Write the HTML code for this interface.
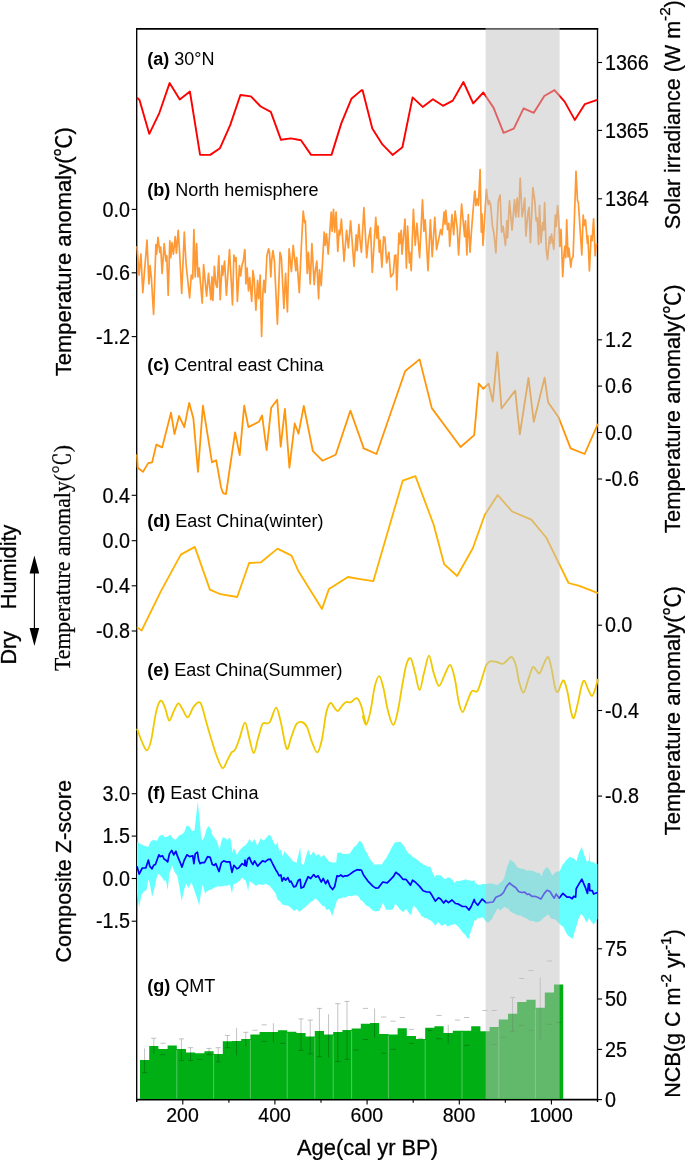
<!DOCTYPE html>
<html lang="en"><head><meta charset="utf-8"><title>Paleoclimate records</title>
<style>
html,body{margin:0;padding:0;background:#fff;}
body{width:685px;height:1160px;overflow:hidden;}
svg{display:block;}
text{font-family:"Liberation Sans","Noto Sans CJK SC",sans-serif;fill:#000;}
.tk{font-size:21.6px;stroke:#000;stroke-width:0.2px;}
.ti{font-size:22px;stroke:#000;stroke-width:0.3px;}
.pl{font-size:17.6px;}
.dh{font-size:21.5px;}
.se{stroke-width:0.25px;font-size:22.5px;}
.se{font-family:"Liberation Serif","Noto Serif CJK SC",serif;}
</style></head><body>
<svg width="685" height="1160" viewBox="0 0 685 1160">
<rect width="685" height="1160" fill="#fff"/>
<g stroke="#000" fill="none" stroke-linecap="butt">
<path stroke-width="1.35" d="M136.7 1102.0V28.0M597.5 28.0V1102.0"/>
<path stroke-width="1.7" d="M136.0 28.8H598.2M136.0 1099.6H598.2"/>
</g>
<g stroke="#000" stroke-width="1.1" fill="none">
<path d="M182.8 1099.6v5"/>
<path d="M274.9 1099.6v5"/>
<path d="M367.1 1099.6v5"/>
<path d="M459.3 1099.6v5"/>
<path d="M551.4 1099.6v5"/>
<path d="M228.9 1099.6v3.2"/>
<path d="M321.0 1099.6v3.2"/>
<path d="M413.2 1099.6v3.2"/>
<path d="M505.3 1099.6v3.2"/>
<path d="M136.7 209.4h-5"/>
<path d="M136.7 272.8h-5"/>
<path d="M136.7 336.6h-5"/>
<path d="M136.7 495.3h-5"/>
<path d="M136.7 540.7h-5"/>
<path d="M136.7 585.8h-5"/>
<path d="M136.7 631.0h-5"/>
<path d="M136.7 793.7h-5"/>
<path d="M136.7 836.1h-5"/>
<path d="M136.7 878.5h-5"/>
<path d="M136.7 921.2h-5"/>
<path d="M597.5 62.5h4.6"/>
<path d="M597.5 130.4h4.6"/>
<path d="M597.5 198.8h4.6"/>
<path d="M597.5 339.8h4.6"/>
<path d="M597.5 386.1h4.6"/>
<path d="M597.5 432.5h4.6"/>
<path d="M597.5 479.0h4.6"/>
<path d="M597.5 625.2h4.6"/>
<path d="M597.5 710.5h4.6"/>
<path d="M597.5 796.1h4.6"/>
<path d="M597.5 948.8h4.6"/>
<path d="M597.5 999.0h4.6"/>
<path d="M597.5 1049.4h4.6"/>
<path d="M597.5 1099.6h4.6"/>
</g>
<polyline fill="none" stroke="#FF0000" stroke-width="1.9" stroke-linejoin="round" points="137.0,97.8 139.5,99.9 149.3,133.9 159.4,112.8 169.6,83.1 179.8,99.5 189.9,91.5 200.1,154.9 210.2,154.9 220.0,148.2 230.2,125.1 240.4,95.0 250.9,96.4 260.7,106.5 270.8,111.8 281.0,139.8 290.8,138.4 301.0,140.2 311.1,154.9 331.5,154.9 341.3,123.4 351.4,98.8 361.6,90.1 362.5,90.1 372.3,128.6 382.4,144.4 392.6,154.9 402.4,147.2 412.6,97.4 422.7,106.9 432.9,99.2 443.0,105.8 452.8,100.6 463.4,82.0 473.2,103.4 483.3,92.5 493.5,107.6 503.6,132.8 513.8,128.6 523.6,108.3 533.8,112.8 544.3,96.0 554.5,90.1 564.6,101.6 574.8,119.9 584.9,104.1 597.2,99.9"/>
<polyline fill="none" stroke="#FF9933" stroke-width="1.7" stroke-linejoin="round" points="137.0,246.2 139.1,275.1 140.9,254.1 142.8,292.6 147.0,240.1 148.9,283.9 150.1,265.5 151.4,278.6 153.6,314.5 155.9,244.5 156.6,254.1 158.0,237.4 159.8,252.3 160.7,247.1 162.1,273.4 164.2,243.6 165.9,261.1 166.8,255.8 168.2,295.3 169.8,240.9 170.8,257.6 172.0,242.7 173.4,254.1 175.2,236.6 176.4,253.2 178.2,230.4 179.6,252.3 181.7,293.5 184.3,232.2 186.1,264.6 189.6,297.9 191.3,275.1 192.7,278.6 193.9,229.6 195.2,276.9 196.6,243.6 198.0,276.9 199.2,268.1 202.2,303.1 203.6,264.6 206.6,296.1 208.5,273.4 210.9,299.6 212.0,276.9 212.9,300.5 214.4,266.4 215.8,283.9 217.1,287.4 218.8,255.8 220.2,299.6 222.0,265.5 222.8,275.1 224.6,261.1 226.4,295.3 229.5,249.7 232.5,304.9 233.9,255.0 235.1,261.1 236.0,257.6 237.4,301.4 239.5,265.5 240.7,276.0 242.1,264.6 243.3,261.1 244.7,249.7 245.0,250.6 245.9,283.9 247.1,268.1 248.5,290.9 249.7,277.7 251.7,301.4 252.9,270.7 254.1,278.6 255.9,310.1 257.6,280.4 258.7,298.8 260.2,275.1 261.6,336.4 262.9,292.6 263.9,280.4 265.1,292.6 266.9,255.8 268.6,248.8 269.5,252.3 270.8,276.9 271.6,261.1 273.0,250.6 274.4,261.1 277.4,324.2 280.0,252.3 281.4,257.6 283.9,308.4 285.6,273.4 287.4,311.9 289.1,248.8 291.4,271.6 293.2,245.3 295.8,270.7 296.7,257.6 299.3,292.6 301.4,245.3 303.2,211.2 304.6,222.6 305.4,220.8 307.2,273.4 308.4,252.3 310.2,283.9 311.9,243.6 314.2,284.7 315.1,272.5 316.8,261.1 318.6,298.8 319.5,269.9 321.2,285.6 324.2,232.2 325.2,245.3 326.5,233.9 328.2,254.1 331.2,212.0 332.1,231.3 333.5,209.4 334.7,232.2 336.1,212.0 337.8,251.5 339.1,230.4 339.9,234.8 341.4,219.1 344.0,261.1 346.6,230.4 348.4,248.0 350.6,220.8 354.0,266.4 356.2,234.8 357.1,250.6 358.9,224.3 360.0,240.1 361.4,252.3 363.9,207.7 366.7,257.6 368.4,240.1 370.5,227.8 372.3,272.5 375.8,217.3 377.0,238.3 378.0,226.1 379.3,252.3 380.1,240.1 381.9,267.2 383.6,236.6 384.9,237.4 386.6,262.8 388.9,252.3 390.7,276.9 393.3,273.4 394.7,255.8 395.9,255.0 396.8,290.0 398.9,233.1 399.9,243.6 401.2,230.4 402.0,254.1 405.0,219.1 406.4,268.1 407.6,226.1 409.4,262.8 409.9,252.3 411.2,270.7 413.4,209.4 415.2,245.3 416.9,223.4 419.6,257.6 422.5,199.8 423.9,231.3 425.2,219.9 428.0,270.7 430.4,219.9 432.2,256.7 434.8,217.3 436.6,249.7 440.6,229.6 442.0,234.8 444.1,212.0 445.0,224.3 445.8,210.3 447.6,229.6 448.8,223.4 449.7,246.2 452.0,214.7 453.7,234.8 455.1,211.2 457.2,227.8 458.6,255.0 461.6,204.2 464.6,236.6 465.5,220.8 466.9,255.0 468.3,214.7 470.0,252.3 472.1,222.6 474.7,191.0 475.0,191.3 475.9,205.5 477.3,198.9 478.4,205.5 480.1,169.5 481.3,232.1 482.0,214.1 483.0,245.4 486.4,189.4 488.3,204.6 489.2,200.8 490.6,204.6 492.5,226.4 494.0,234.0 495.9,253.0 498.2,201.8 500.1,195.1 501.6,232.1 503.1,226.4 505.4,245.4 506.9,220.7 507.6,237.8 509.5,200.8 512.0,230.2 514.5,199.9 515.8,216.9 517.1,198.0 518.6,216.9 520.2,178.0 522.1,216.9 523.4,209.3 524.7,198.0 525.9,235.9 528.1,211.2 529.1,207.4 530.4,242.6 532.9,187.5 534.8,200.8 536.1,220.7 537.2,217.9 538.6,244.5 539.5,205.5 541.0,242.6 542.6,222.6 543.7,230.2 544.6,202.7 546.2,249.2 547.5,259.6 549.6,236.9 550.5,243.5 551.5,234.0 553.8,249.2 555.3,215.0 556.2,226.4 557.6,205.5 558.5,216.9 559.8,246.4 561.0,229.3 562.7,276.7 563.8,256.8 564.8,246.4 565.7,257.7 566.7,219.8 568.0,256.8 568.9,248.2 570.8,267.2 571.8,258.7 573.1,256.8 576.0,171.4 577.5,200.8 578.4,202.7 580.3,232.1 581.8,254.9 583.2,215.0 584.1,225.5 585.5,219.8 587.4,243.5 587.9,235.9 589.4,271.0 591.1,235.9 592.1,240.7 593.6,218.8 595.1,255.8 596.5,243.5"/>
<polyline fill="none" stroke="#FF960A" stroke-width="1.8" stroke-linejoin="round" points="137.0,454.4 137.7,467.7 143.0,471.9 148.2,463.1 152.1,462.4 156.3,444.6 162.2,447.4 171.0,412.7 174.5,434.1 179.1,415.8 184.3,427.1 189.2,402.9 193.4,418.6 198.0,471.9 202.9,405.7 212.0,462.4 216.2,460.3 221.1,487.7 223.2,493.3 226.0,494.0 235.1,432.3 239.7,455.1 244.2,405.7 248.4,427.1 258.9,421.8 262.1,415.5 266.6,450.2 271.2,407.8 277.2,399.7 280.7,446.7 284.9,408.8 289.4,467.7 294.7,423.5 298.5,433.7 303.8,406.0 312.9,451.2 322.4,460.7 335.7,454.7 350.4,410.6 363.7,448.1 363.2,448.1 376.5,454.0 405.2,371.0 419.6,359.4 431.8,408.1 460.6,447.0 474.2,435.1 478.8,383.6 483.3,388.9 488.6,383.6 492.8,401.5 497.3,352.1 501.5,408.5 515.2,390.6 519.8,434.4 528.5,378.0 533.8,421.8 544.6,377.6 548.1,402.2 558.7,417.6 570.6,448.4 584.6,454.0 597.9,423.9"/>
<polyline fill="none" stroke="#FFB000" stroke-width="1.8" stroke-linejoin="round" points="137.0,627.1 141.6,630.6 160.8,591.4 180.8,554.6 194.8,546.9 209.9,589.6 220.4,594.2 237.2,597.0 249.1,563.0 261.0,562.3 277.5,548.6 291.5,555.6 298.2,570.7 322.0,608.9 329.0,588.9 347.9,577.0 360.0,579.1 373.3,581.2 402.7,480.7 415.4,476.1 433.6,524.5 444.1,564.1 457.1,576.0 472.8,548.3 484.7,515.0 497.7,495.0 512.1,511.5 531.3,519.6 546.4,537.8 568.5,583.0 579.3,585.8 597.9,593.1"/>
<path fill="none" stroke="#F0C800" stroke-width="1.8" d="M137.0 728.6C137.9 730.9 140.6 739.0 142.3 742.6C143.9 746.2 145.4 750.6 146.8 750.3C148.3 750.0 149.4 747.4 151.0 740.9C152.6 734.3 154.6 717.8 156.3 711.1C157.9 704.4 159.4 701.2 160.8 700.6C162.3 700.0 163.6 704.3 165.0 707.6C166.4 710.9 167.8 720.0 169.2 720.6C170.7 721.1 172.3 714.0 173.8 711.1C175.3 708.2 176.9 703.7 178.4 703.4C179.8 703.1 181.0 707.0 182.6 709.3C184.1 711.7 186.1 717.7 187.8 717.4C189.6 717.1 191.3 710.1 193.1 707.6C194.8 705.1 196.9 702.6 198.3 702.3C199.8 702.0 200.4 702.0 201.8 705.8C203.3 709.6 205.3 719.0 207.1 725.1C208.8 731.2 210.6 737.1 212.3 742.6C214.1 748.2 215.8 754.1 217.6 758.4C219.3 762.7 221.2 767.9 222.8 768.2C224.5 768.5 225.9 762.8 227.4 760.1C228.9 757.5 230.3 754.2 231.6 752.4C232.9 750.7 233.8 751.9 235.1 749.6C236.4 747.4 237.7 743.6 239.3 739.1C240.9 734.6 243.3 722.9 244.9 722.7C246.6 722.4 247.7 732.3 249.1 737.4C250.6 742.5 252.2 752.8 253.7 753.1C255.1 753.4 256.4 744.0 257.9 739.1C259.3 734.3 261.0 726.7 262.4 724.1C263.9 721.4 265.4 723.8 266.6 723.4C267.9 722.9 268.6 724.2 270.1 721.6C271.7 719.0 274.4 707.6 276.1 707.6C277.9 707.6 278.9 714.8 280.7 721.6C282.4 728.4 284.9 746.0 286.6 748.6C288.4 751.2 289.5 741.5 291.2 737.4C292.8 733.3 294.7 726.6 296.4 724.1C298.2 721.5 299.9 721.5 301.7 722.0C303.4 722.4 305.2 723.4 306.9 726.9C308.7 730.3 310.4 738.4 312.2 742.6C313.9 746.9 315.8 753.0 317.4 752.4C319.1 751.9 320.5 745.7 322.0 739.1C323.5 732.5 324.8 718.9 326.2 712.8C327.6 706.8 329.1 703.9 330.4 703.0C331.8 702.2 333.0 706.2 334.3 707.6C335.5 708.9 336.5 711.4 337.8 711.1C339.1 710.8 340.6 707.4 342.0 705.8C343.4 704.3 344.7 702.6 346.2 702.0C347.6 701.4 349.0 703.0 350.7 702.3C352.5 701.7 354.9 697.5 356.7 698.1C358.4 698.7 359.8 701.6 361.2 705.8C362.7 710.0 365.2 721.6 365.4 723.4C365.7 725.1 362.7 716.2 362.8 716.4C362.9 716.5 365.0 725.3 366.3 724.4C367.6 723.5 369.1 717.4 370.5 711.1C371.9 704.8 373.3 692.4 374.7 686.6C376.2 680.7 377.8 675.8 379.3 676.1C380.7 676.4 382.0 682.5 383.5 688.3C384.9 694.2 386.4 705.0 388.0 711.1C389.7 717.2 391.6 725.1 393.3 725.1C394.9 725.1 396.4 717.5 397.8 711.1C399.3 704.7 400.6 694.5 402.0 686.6C403.5 678.7 405.1 668.5 406.6 663.8C408.1 659.1 409.4 657.1 410.8 658.5C412.2 660.0 413.5 667.3 415.0 672.6C416.5 677.8 418.0 690.1 419.6 690.1C421.1 690.1 422.5 678.3 424.1 672.6C425.7 666.8 427.4 655.7 429.0 655.7C430.6 655.7 431.9 667.5 433.6 672.6C435.2 677.6 437.1 685.3 438.8 685.9C440.6 686.5 442.2 679.6 444.1 676.1C446.0 672.6 448.3 664.6 450.0 664.8C451.8 665.1 453.1 671.6 454.6 677.8C456.1 684.1 457.5 696.6 458.8 702.3C460.1 708.1 461.3 712.1 462.7 712.1C464.0 712.1 465.4 705.7 466.9 702.3C468.3 698.9 470.2 693.8 471.4 691.8C472.6 689.9 472.9 690.9 473.9 690.8C474.9 690.7 476.1 693.0 477.4 691.1C478.7 689.3 480.1 683.8 481.6 679.6C483.0 675.3 484.7 668.6 486.1 665.5C487.6 662.5 488.6 661.9 490.3 661.3C492.1 660.8 494.6 661.6 496.6 662.0C498.7 662.5 500.8 664.1 502.6 663.8C504.4 663.5 505.6 661.4 507.2 660.3C508.7 659.2 510.2 656.3 511.7 657.1C513.2 658.0 514.6 661.2 515.9 665.5C517.2 669.9 518.1 678.6 519.4 683.1C520.7 687.6 522.2 693.1 523.6 692.5C525.1 691.9 526.7 683.8 528.2 679.6C529.7 675.4 531.4 668.9 532.7 667.3C534.1 665.7 535.1 669.1 536.2 670.1C537.4 671.1 538.5 674.3 539.7 673.3C541.0 672.2 542.5 666.5 543.9 663.8C545.3 661.1 546.9 656.3 548.1 657.1C549.4 658.0 550.5 663.9 551.6 669.1C552.8 674.2 554.1 684.5 555.2 688.3C556.2 692.1 557.0 692.4 558.0 691.8C558.9 691.2 559.8 686.7 560.8 684.8C561.8 682.9 562.8 679.4 563.9 680.6C565.0 681.8 566.2 686.7 567.4 691.8C568.6 696.9 569.9 706.7 570.9 711.1C572.0 715.5 572.7 719.0 573.7 718.1C574.8 717.2 575.9 711.1 577.2 705.8C578.5 700.6 580.3 690.8 581.4 686.6C582.6 682.4 583.2 680.3 584.2 680.6C585.3 680.9 586.5 685.8 587.7 688.3C589.0 690.9 590.7 696.0 591.9 696.0C593.2 696.0 594.5 691.2 595.4 688.3C596.4 685.5 597.5 680.4 597.9 678.9"/>
<polygon fill="#66FFFF" points="137.0,841.7 138.8,842.7 140.5,844.3 142.3,844.4 144.0,845.7 145.8,846.1 148.4,846.9 150.1,842.6 151.9,840.6 153.6,839.9 155.4,840.4 157.2,840.8 158.9,836.4 160.7,835.4 162.4,834.7 165.0,837.3 167.7,836.4 170.3,834.7 172.9,838.2 175.5,839.9 178.2,836.4 179.6,834.9 181.1,834.7 182.6,833.8 184.3,832.0 186.4,825.9 188.0,825.7 189.6,826.8 192.2,831.2 194.5,830.3 195.7,819.8 197.8,801.4 199.7,819.8 200.9,833.8 202.2,840.8 204.5,836.4 206.2,830.3 208.3,825.9 210.6,828.5 212.3,834.7 214.1,837.3 216.7,840.8 218.5,846.1 219.3,850.4 221.1,842.6 222.8,837.3 225.5,838.2 227.2,839.9 229.9,837.3 231.3,842.6 232.5,853.1 233.7,847.8 235.1,850.4 236.9,854.8 239.5,850.4 242.1,847.8 244.7,845.2 245.0,846.1 247.6,842.6 249.4,839.1 252.0,842.6 254.6,839.1 257.3,846.1 259.0,842.0 260.8,838.2 263.4,840.8 266.0,838.2 267.9,835.8 269.9,834.7 271.5,837.2 273.0,840.8 275.7,846.1 277.4,841.7 279.2,851.3 280.9,849.6 282.7,856.6 284.4,851.3 287.0,853.9 288.8,856.0 290.5,858.3 292.3,860.5 294.1,861.8 296.7,862.7 298.4,854.8 300.2,846.9 301.4,863.6 303.7,865.3 305.4,858.3 308.1,849.6 310.7,855.7 313.3,851.3 315.9,855.7 318.6,853.9 321.2,857.4 323.8,854.8 326.5,858.3 329.1,861.8 330.8,861.7 332.6,862.7 334.3,862.3 336.1,862.7 337.3,853.1 338.9,852.8 340.5,852.2 342.2,853.7 344.0,853.9 345.4,854.0 346.9,853.8 348.4,853.9 350.1,852.9 351.9,850.4 353.6,847.6 355.4,846.1 356.8,844.8 358.3,842.3 359.7,840.8 360.0,840.8 361.8,842.6 363.5,846.0 365.3,850.4 366.7,852.5 368.2,855.4 369.6,858.3 371.1,860.8 372.6,862.0 374.0,864.5 375.6,864.6 377.2,864.6 378.7,864.3 380.3,864.5 381.9,864.5 383.4,861.8 384.8,859.7 386.3,858.3 387.7,855.0 389.2,852.7 390.7,849.6 392.1,847.0 393.6,844.4 395.0,842.2 396.6,842.3 398.1,842.1 399.6,841.9 401.2,842.2 402.9,845.0 404.7,846.9 407.3,852.2 409.1,853.8 410.8,854.8 413.4,857.4 414.9,858.0 416.4,859.3 417.8,860.1 419.3,861.3 420.7,862.9 422.2,863.6 423.6,864.8 425.1,865.0 426.6,866.2 428.3,866.9 430.1,866.2 431.8,870.6 434.5,876.7 436.2,875.3 438.0,875.0 439.7,875.3 441.5,875.8 443.2,878.0 445.0,879.3 447.6,877.6 449.3,877.5 451.1,878.5 452.8,880.6 454.6,882.8 456.4,881.3 458.1,881.1 459.9,880.9 461.6,880.2 463.1,880.3 464.5,879.7 466.0,879.3 467.7,880.3 469.5,880.2 472.1,881.1 474.7,880.2 475.0,883.0 476.9,883.7 478.8,884.9 480.7,884.7 482.6,883.9 484.5,884.1 486.4,883.9 487.8,883.8 489.2,883.4 490.7,883.7 492.1,883.0 493.7,884.2 495.2,884.2 496.8,884.9 498.4,884.2 500.0,882.4 501.6,882.0 503.0,880.0 504.4,877.3 505.8,871.8 507.3,865.9 508.7,863.3 510.1,859.3 512.0,861.1 513.9,862.1 515.8,864.7 517.7,867.8 519.3,868.0 520.9,868.7 522.4,868.8 524.3,869.0 526.2,870.7 527.8,870.6 529.4,870.2 531.0,870.7 532.6,870.8 534.1,871.3 535.7,872.6 537.6,872.9 539.5,872.6 541.4,876.4 542.8,872.5 544.3,869.7 545.7,867.9 547.1,866.9 548.5,868.6 550.0,870.7 551.4,873.5 552.8,875.4 554.7,872.9 556.6,871.6 558.0,871.5 559.5,871.6 560.9,868.4 562.3,865.0 564.2,863.1 566.1,860.2 568.0,858.8 569.9,856.4 571.8,857.9 573.7,858.3 575.1,859.4 576.5,861.2 579.0,852.6 580.4,849.7 581.8,846.9 584.1,854.5 585.5,858.1 587.0,862.1 588.9,860.2 589.4,850.7 590.0,861.2 591.8,862.2 593.6,862.1 595.5,863.7 597.4,864.0 597.4,919.1 595.5,921.8 593.6,924.7 592.2,922.7 590.8,920.9 588.9,918.1 587.0,922.8 585.5,920.7 584.1,917.2 582.7,915.7 581.3,913.4 579.9,916.0 578.4,919.1 577.0,924.2 575.6,928.5 574.2,933.3 572.7,939.0 571.3,938.0 569.9,937.1 568.5,936.0 567.0,934.2 565.1,930.8 563.2,926.6 561.4,925.8 559.5,923.8 557.6,922.1 555.7,920.0 553.8,918.9 551.9,919.1 550.0,917.1 548.1,914.3 546.2,915.9 544.3,917.2 542.4,919.0 540.5,920.9 538.9,921.7 537.3,922.1 535.7,921.9 534.3,921.8 532.9,921.0 531.5,920.8 530.0,920.9 528.5,919.6 526.9,918.7 525.3,918.1 523.7,917.0 522.1,916.8 520.5,915.3 519.0,915.6 517.4,915.2 515.8,914.3 513.9,913.3 512.0,912.4 510.1,911.2 508.2,908.6 506.3,907.9 504.4,906.7 502.5,908.3 500.6,910.5 499.2,909.3 497.8,908.6 496.4,910.3 494.9,913.4 493.5,915.5 492.1,919.1 490.2,920.7 488.3,922.8 486.9,921.9 485.4,920.9 484.0,918.7 482.6,917.2 481.0,917.8 479.4,918.2 477.8,918.1 476.4,920.0 475.0,920.9 474.7,919.6 473.0,925.4 471.2,930.1 468.6,938.9 466.9,937.4 465.1,934.5 463.4,933.2 461.6,931.0 459.9,928.4 458.1,926.6 456.4,925.1 454.6,924.0 452.8,924.8 451.1,924.9 449.3,925.8 447.6,926.6 445.0,924.0 443.2,925.3 441.5,925.8 439.7,923.5 438.0,922.3 435.3,925.8 433.9,923.8 432.4,921.9 430.9,920.5 429.5,919.9 428.0,919.3 426.6,917.9 424.8,918.0 423.1,916.8 421.3,916.1 419.9,913.1 418.4,911.5 416.9,909.1 415.2,906.9 413.4,905.6 410.8,915.3 409.3,913.3 407.9,911.8 406.4,909.1 404.7,910.2 402.9,912.6 401.5,910.4 400.0,909.6 398.5,907.4 396.8,905.3 395.0,903.9 393.3,909.1 390.7,910.0 389.2,909.8 387.7,909.4 386.3,910.0 384.5,905.9 382.8,903.0 381.0,906.9 379.3,910.9 377.5,910.8 375.8,911.6 374.0,910.9 372.3,910.1 370.5,908.2 369.1,906.8 367.6,906.3 366.1,905.6 364.4,903.2 362.6,901.2 360.0,899.5 359.7,897.7 358.3,896.5 356.8,895.5 355.4,895.1 353.6,895.6 351.9,896.2 350.1,896.0 348.4,895.9 346.6,897.0 344.9,897.7 343.4,897.5 341.9,897.8 340.5,898.6 338.7,898.8 337.0,900.4 334.3,909.1 332.2,916.1 330.7,912.0 329.1,909.1 326.5,910.0 324.7,906.5 322.1,905.6 320.3,903.2 318.6,901.2 316.8,899.5 315.1,898.6 312.4,901.2 310.7,902.1 308.9,903.9 307.2,905.0 305.4,907.4 303.7,908.1 301.9,910.0 299.3,911.8 296.7,909.1 294.1,910.9 292.3,909.3 290.5,907.4 288.8,905.9 287.0,905.6 285.6,905.2 284.1,904.9 282.7,904.7 280.0,901.2 277.4,899.5 275.7,893.4 273.0,889.9 271.3,888.1 269.5,885.5 267.8,885.1 266.0,883.7 264.3,884.4 262.5,884.9 260.8,884.6 259.0,884.3 257.3,885.4 255.5,885.5 253.8,884.3 252.0,882.8 249.4,881.1 248.2,891.6 246.8,884.6 245.0,879.3 244.7,880.2 242.1,877.6 239.5,881.1 236.9,882.8 235.1,883.7 233.4,884.6 232.0,893.4 229.9,884.6 228.4,885.2 226.9,885.8 225.5,885.5 224.0,885.9 222.6,885.9 221.1,886.4 219.3,886.5 217.6,886.2 215.8,887.2 214.1,887.8 212.3,889.0 210.9,889.7 209.4,890.1 208.0,890.7 206.5,891.7 205.0,893.4 202.7,884.6 200.9,893.4 199.2,905.6 196.6,896.9 193.9,889.0 191.3,882.0 188.7,888.1 186.1,883.7 184.0,889.9 181.7,901.2 179.6,888.1 177.3,875.8 174.7,872.3 172.0,865.3 169.4,874.1 167.7,889.9 165.9,880.2 164.2,881.1 162.4,878.1 160.7,875.8 159.2,874.5 157.7,874.1 156.1,880.6 154.5,888.1 152.2,896.9 149.6,882.8 148.4,879.3 146.6,889.9 144.0,891.6 141.4,895.1 139.1,907.4 137.0,893.4"/>
<polyline fill="none" stroke="#0000FF" stroke-width="1.7" stroke-linejoin="round" points="137.0,866.2 139.1,874.1 142.3,868.0 145.8,868.0 148.4,860.1 149.8,866.2 151.9,868.8 153.6,865.3 155.4,864.5 158.9,854.8 160.1,856.6 162.4,855.7 164.2,859.2 165.9,860.1 167.7,861.8 169.4,853.9 171.7,850.4 173.8,854.8 175.9,851.3 177.3,855.7 179.9,861.8 182.0,867.1 184.3,860.1 186.9,854.8 189.6,856.6 192.7,855.7 193.9,863.6 195.2,853.9 197.4,852.2 198.7,860.1 200.1,863.6 201.8,862.7 204.5,862.7 207.6,856.6 210.2,857.4 212.3,864.5 214.1,865.3 215.8,863.6 219.0,871.5 221.4,862.7 223.7,860.9 226.0,861.8 229.9,861.8 232.0,872.3 233.9,865.3 236.9,868.8 238.6,868.0 242.1,863.6 244.7,865.3 245.0,860.1 246.4,866.2 247.6,859.2 249.4,857.4 251.1,861.8 252.9,864.5 254.6,860.9 257.6,866.2 259.9,863.6 262.5,860.9 265.1,861.8 267.8,859.7 270.4,859.2 273.0,864.5 275.7,869.7 277.4,872.3 279.2,875.8 280.9,875.0 282.1,881.1 283.9,877.6 285.6,880.2 287.9,877.6 289.7,882.0 290.9,881.1 293.7,886.9 295.8,886.4 298.4,880.2 300.2,879.3 301.1,888.1 303.7,886.9 305.4,882.8 308.1,876.7 310.7,878.5 313.7,874.6 315.9,877.2 318.2,875.8 321.2,882.0 323.3,878.5 325.6,883.7 327.7,880.2 330.0,886.4 332.6,889.5 334.7,886.4 337.0,875.8 338.7,876.4 340.8,875.0 343.1,876.7 344.9,875.8 347.5,875.8 350.1,874.1 353.6,871.5 357.1,869.7 359.7,870.1 360.0,869.7 361.4,870.2 363.5,875.0 367.9,881.1 373.1,886.4 375.8,888.1 378.4,887.8 382.8,882.0 387.2,882.8 390.7,879.3 393.3,876.7 395.9,872.3 399.4,875.0 402.9,879.3 405.9,879.3 410.5,885.1 412.6,880.2 415.2,882.0 419.6,886.4 423.1,890.7 426.6,892.0 429.7,892.0 431.8,895.1 435.3,901.2 438.5,897.7 440.6,899.0 443.7,903.0 445.8,900.4 448.5,902.6 452.0,900.0 455.5,903.5 458.1,903.9 462.5,906.5 466.0,906.5 469.0,910.0 471.2,906.5 474.2,899.5 475.0,902.0 477.8,905.2 482.2,899.1 486.4,902.9 493.0,902.0 495.9,897.2 500.6,895.3 503.5,892.5 506.3,886.8 509.5,883.0 513.0,885.8 515.8,887.7 518.6,891.5 521.5,892.5 524.7,892.1 527.2,894.4 529.1,894.0 531.9,896.3 534.8,896.3 537.6,897.2 540.9,899.1 544.3,893.4 547.1,890.2 550.0,891.5 552.8,896.3 554.3,898.2 556.2,894.0 559.1,898.2 562.9,893.4 567.0,897.2 569.9,897.2 572.2,898.7 573.7,896.3 575.6,897.2 576.2,888.7 578.4,884.9 581.8,879.2 585.1,886.8 587.5,893.4 588.5,883.9 589.4,883.9 589.8,890.6 592.3,890.6 593.6,894.0 597.4,892.5"/>
<path fill="#00AF14" d="M140.00 1098.9V1060.1H149.20V1045.9H158.40V1048.9H167.60V1045.4H176.80V1049.1H186.00V1052.6H195.20V1053.3H204.40V1051.2H213.60V1054.0H222.80V1041.2H232.00V1041.0H241.20V1038.9H250.40V1034.4H259.60V1032.1H268.80V1032.1H278.00V1030.2H287.20V1031.8H296.40V1032.9H305.60V1036.4H314.80V1031.1H324.00V1034.6H333.20V1032.0H342.40V1029.9H351.60V1028.5H360.80V1023.8H370.00V1022.9H379.20V1034.1H388.40V1034.6H397.60V1028.3H406.80V1036.0H416.00V1039.0H425.20V1027.8H434.40V1026.2H443.60V1032.9H452.80V1030.8H462.00V1030.8H471.20V1026.2H480.40V1031.3H489.60V1027.1H498.80V1019.4H508.00V1013.8H517.20V1001.9H526.40V999.8H535.60V1007.7H544.80V992.5H554.00V984.6H563.20V1098.9Z"/>
<g stroke="#fff" stroke-width="0.5" opacity="0.65">
<path d="M176.80 1050.1V1098.6"/>
<path d="M213.60 1055.0V1098.6"/>
<path d="M250.40 1039.9V1098.6"/>
<path d="M287.20 1032.8V1098.6"/>
<path d="M314.80 1037.4V1098.6"/>
<path d="M333.20 1035.6V1098.6"/>
<path d="M351.60 1030.9V1098.6"/>
<path d="M388.40 1035.6V1098.6"/>
<path d="M425.20 1040.0V1098.6"/>
<path d="M462.00 1031.8V1098.6"/>
<path d="M498.80 1028.1V1098.6"/>
<path d="M535.60 1008.7V1098.6"/>
</g>
<g stroke="#000" stroke-width="0.6" opacity="0.4" fill="none">
<path d="M144.60 1048.4V1072.7M142.00 1072.7h5.2"/>
<path d="M153.80 1038.2V1053.6M151.20 1038.2h5.2"/>
<path d="M160.40 1043.3h5.2M160.40 1054.7h5.2"/>
<path d="M181.40 1038.9V1060.6M178.80 1038.9h5.2M178.80 1060.6h5.2"/>
<path d="M190.60 1047.7V1060.6M188.00 1047.7h5.2M188.00 1060.6h5.2"/>
<path d="M197.20 1059.4h5.2"/>
<path d="M209.00 1048.4V1054.7M206.40 1048.4h5.2M206.40 1054.7h5.2"/>
<path d="M218.20 1047.7V1061.8M215.60 1047.7h5.2M215.60 1061.8h5.2"/>
<path d="M227.40 1035.4V1047.7M224.80 1035.4h5.2M224.80 1047.7h5.2"/>
<path d="M236.60 1027.9V1055.4"/>
<path d="M245.80 1032.3V1046.1M243.20 1032.3h5.2"/>
<path d="M252.40 1030.2h5.2"/>
<path d="M261.60 1024.8h5.2M261.60 1041.4h5.2"/>
<path d="M273.40 1023.2V1042.6"/>
<path d="M280.00 1043.3h5.2"/>
<path d="M301.00 1018.9V1050.4M298.40 1018.9h5.2M298.40 1050.4h5.2"/>
<path d="M310.20 1020.1V1053.9M307.60 1020.1h5.2M307.60 1053.9h5.2"/>
<path d="M319.40 1008.4V1056.7M316.80 1008.4h5.2M316.80 1056.7h5.2"/>
<path d="M328.60 1014.2V1057.4"/>
<path d="M337.80 1003.7V1061.6M335.20 1003.7h5.2M335.20 1061.6h5.2"/>
<path d="M347.00 1001.4V1059.3M344.40 1001.4h5.2M344.40 1059.3h5.2"/>
<path d="M353.60 1050.0h5.2"/>
<path d="M362.80 1008.4h5.2M362.80 1039.5h5.2"/>
<path d="M374.60 1008.4V1037.6"/>
<path d="M381.20 1017.0h5.2M381.20 1053.2h5.2"/>
<path d="M390.40 1021.2h5.2M390.40 1049.3h5.2"/>
<path d="M399.60 1017.5h5.2"/>
<path d="M408.80 1029.4h5.2M408.80 1043.4h5.2"/>
<path d="M418.00 1038.3h5.2"/>
<path d="M427.20 1030.4h5.2"/>
<path d="M436.40 1015.4h5.2M436.40 1038.8h5.2"/>
<path d="M448.20 1024.7V1043.4"/>
<path d="M454.80 1020.1h5.2"/>
<path d="M464.00 1017.5h5.2M464.00 1045.3h5.2"/>
<path d="M482.40 1010.5h5.2"/>
<path d="M491.60 1010.5h5.2M491.60 1044.4h5.2"/>
<path d="M500.80 1037.4h5.2"/>
<path d="M512.60 997.4V1031.3M510.00 997.4h5.2M510.00 1031.3h5.2"/>
<path d="M519.20 978.5h5.2M519.20 1025.4h5.2"/>
<path d="M528.40 970.6h5.2M528.40 1030.4h5.2"/>
<path d="M540.20 977.6V1039.5"/>
<path d="M546.80 961.0h5.2M546.80 1024.3h5.2"/>
<path d="M556.00 1022.4h5.2"/>
</g>
<rect x="485.6" y="27.9" width="74" height="1070.9" fill="#C2C2C2" fill-opacity="0.506"/>
<text class="tk" transform="translate(130 216.6) scale(0.915 1)" text-anchor="end">0.0</text>
<text class="tk" transform="translate(130 280.0) scale(0.915 1)" text-anchor="end">-0.6</text>
<text class="tk" transform="translate(130 343.8) scale(0.915 1)" text-anchor="end">-1.2</text>
<text class="tk" transform="translate(130 502.5) scale(0.915 1)" text-anchor="end">0.4</text>
<text class="tk" transform="translate(130 547.9) scale(0.915 1)" text-anchor="end">0.0</text>
<text class="tk" transform="translate(130 593.0) scale(0.915 1)" text-anchor="end">-0.4</text>
<text class="tk" transform="translate(130 638.2) scale(0.915 1)" text-anchor="end">-0.8</text>
<text class="tk" transform="translate(130 800.9) scale(0.915 1)" text-anchor="end">3.0</text>
<text class="tk" transform="translate(130 843.3) scale(0.915 1)" text-anchor="end">1.5</text>
<text class="tk" transform="translate(130 885.7) scale(0.915 1)" text-anchor="end">0.0</text>
<text class="tk" transform="translate(130 928.4) scale(0.915 1)" text-anchor="end">-1.5</text>
<text class="tk" transform="translate(604.9 69.7) scale(0.915 1)">1366</text>
<text class="tk" transform="translate(604.9 137.6) scale(0.915 1)">1365</text>
<text class="tk" transform="translate(604.9 206.0) scale(0.915 1)">1364</text>
<text class="tk" transform="translate(604.9 347.0) scale(0.915 1)">1.2</text>
<text class="tk" transform="translate(604.9 393.3) scale(0.915 1)">0.6</text>
<text class="tk" transform="translate(604.9 439.7) scale(0.915 1)">0.0</text>
<text class="tk" transform="translate(604.9 486.2) scale(0.915 1)">-0.6</text>
<text class="tk" transform="translate(604.9 632.4) scale(0.915 1)">0.0</text>
<text class="tk" transform="translate(604.9 717.7) scale(0.915 1)">-0.4</text>
<text class="tk" transform="translate(604.9 803.3) scale(0.915 1)">-0.8</text>
<text class="tk" transform="translate(604.9 956.0) scale(0.915 1)">75</text>
<text class="tk" transform="translate(604.9 1006.2) scale(0.915 1)">50</text>
<text class="tk" transform="translate(604.9 1056.6) scale(0.915 1)">25</text>
<text class="tk" transform="translate(604.9 1106.8) scale(0.915 1)">0</text>
<text class="tk" style="font-size:20.6px" transform="translate(182.5 1122.3) scale(0.947 1)" text-anchor="middle">200</text>
<text class="tk" style="font-size:20.6px" transform="translate(274.6 1122.3) scale(0.947 1)" text-anchor="middle">400</text>
<text class="tk" style="font-size:20.6px" transform="translate(366.8 1122.3) scale(0.947 1)" text-anchor="middle">600</text>
<text class="tk" style="font-size:20.6px" transform="translate(459.0 1122.3) scale(0.947 1)" text-anchor="middle">800</text>
<text class="tk" style="font-size:20.6px" transform="translate(551.1 1122.3) scale(0.947 1)" text-anchor="middle">1000</text>
<text class="ti" x="297" y="1154.5" textLength="141" lengthAdjust="spacingAndGlyphs">Age(cal yr BP)</text>
<text class="ti" transform="translate(70.6 376.1) rotate(-90)" textLength="248.8" lengthAdjust="spacingAndGlyphs">Temperature anomaly(℃)</text>
<text class="ti se" transform="translate(70.0 671.0) rotate(-90)" textLength="226.0" lengthAdjust="spacingAndGlyphs">Temperature anomaly(℃)</text>
<text class="ti" transform="translate(70.6 962.5) rotate(-90)" textLength="182.5" lengthAdjust="spacingAndGlyphs">Composite Z-score</text>
<text class="ti" transform="translate(679.8 229.2) rotate(-90)" textLength="229.0" lengthAdjust="spacingAndGlyphs">Solar irradiance (W m<tspan font-size="15.5" dy="-9.5">-2</tspan><tspan dy="9.5">)</tspan></text>
<text class="ti" transform="translate(679.8 533.0) rotate(-90)" textLength="248.5" lengthAdjust="spacingAndGlyphs">Temperature anomaly(℃)</text>
<text class="ti" transform="translate(679.8 835.2) rotate(-90)" textLength="249.0" lengthAdjust="spacingAndGlyphs">Temperature anomaly(℃)</text>
<text class="ti" transform="translate(680.0 1097.8) rotate(-90)" textLength="168.5" lengthAdjust="spacingAndGlyphs">NCB(g C m<tspan font-size="15.5" dy="-9.5">-2</tspan><tspan dy="9.5"> yr</tspan><tspan font-size="15.5" dy="-9.5">-1</tspan><tspan dy="9.5">)</tspan></text>
<text class="ti dh" transform="translate(15.8 664.6) rotate(-90)" textLength="33.4" lengthAdjust="spacingAndGlyphs">Dry</text>
<text class="ti dh" transform="translate(15.8 609.2) rotate(-90)" textLength="84.6" lengthAdjust="spacingAndGlyphs">Humidity</text>
<path d="M34.4 560V641" stroke="#000" stroke-width="1.1"/>
<path d="M34.4 555.6l4.8 18h-9.6zM34.4 645.9l4.8-18h-9.6z" fill="#000"/>
<text class="pl" transform="translate(147.2 65.4) scale(1.025 1)"><tspan font-weight="bold">(a)</tspan> 30°N</text>
<text class="pl" transform="translate(147.2 196.1) scale(1.025 1)"><tspan font-weight="bold">(b)</tspan> North hemisphere</text>
<text class="pl" transform="translate(147.2 371.3) scale(1.025 1)"><tspan font-weight="bold">(c)</tspan> Central east China</text>
<text class="pl" transform="translate(147.2 526.6) scale(1.025 1)"><tspan font-weight="bold">(d)</tspan> East China(winter)</text>
<text class="pl" transform="translate(147.2 676.0) scale(1.025 1)"><tspan font-weight="bold">(e)</tspan> East China(Summer)</text>
<text class="pl" transform="translate(147.2 798.7) scale(1.025 1)"><tspan font-weight="bold">(f)</tspan> East China</text>
<text class="pl" transform="translate(147.2 992.4) scale(1.025 1)"><tspan font-weight="bold">(g)</tspan> QMT</text>
</svg></body></html>
